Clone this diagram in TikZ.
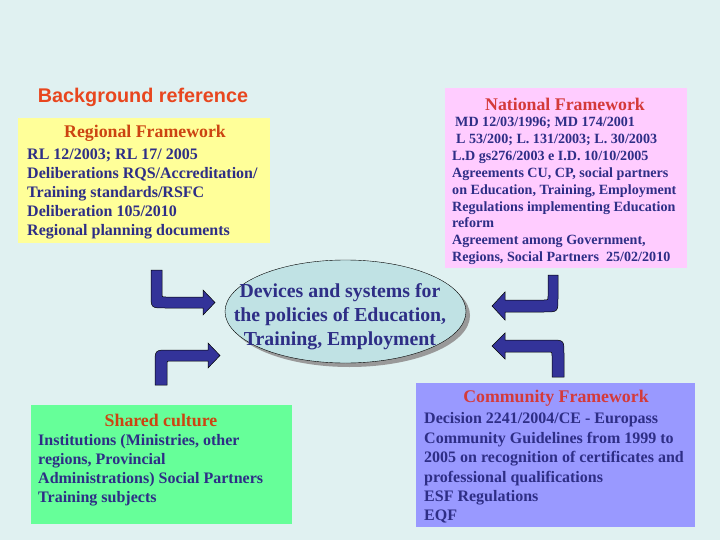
\documentclass[tikz,border=0pt]{standalone}
\usepackage{fontspec}
\setmainfont{Liberation Serif}
\newfontfamily\arialfont{Liberation Sans}
\usepackage{xcolor}
\usepackage{tikz}
\usetikzlibrary{shapes.geometric,shadows}
\definecolor{slidebg}{HTML}{E0F1F1}
\definecolor{regyellow}{HTML}{FFFF99}
\definecolor{natpink}{HTML}{FFCCFF}
\definecolor{sharedgreen}{HTML}{66FF99}
\definecolor{commviolet}{HTML}{9999FF}
\definecolor{ellteal}{HTML}{C0E2E4}
\definecolor{navy}{HTML}{2E2E86}
\definecolor{arrowblue}{HTML}{333399}
\definecolor{titleorange}{HTML}{CC4411}
\definecolor{titlered}{HTML}{D43A3A}
\definecolor{headred}{HTML}{E8461E}

\begin{document}
\begin{tikzpicture}[
  x=1pt, y=-1pt,
  title/.style={font=\bfseries\fontsize{17.8}{20}\selectfont, text=titleorange, inner sep=0pt},
  body/.style={anchor=north west, align=left, inner sep=0pt, text=navy,
               font=\bfseries\fontsize{16}{18.8}\selectfont},
  small/.style={body, font=\bfseries\fontsize{14.1}{16.9}\selectfont},
  bent/.style={fill=arrowblue, draw=black, line width=0.5pt}
]

\fill[slidebg] (0,0) rectangle (720,540);
\useasboundingbox (0,0) rectangle (720,540);

\node[text=headred, font=\arialfont\bfseries\fontsize{19.8}{22}\selectfont] (bgref) at (143,97) {Background reference};

% framework boxes
\fill[regyellow] (18,118) rectangle (270,243);
\node[title] (regtitle) at (145,133) {Regional Framework};
\node[body] (regtext) at (27,149)
  {RL 12/2003; RL 17/ 2005\\Deliberations RQS/Accreditation/\\Training standards/RSFC\\Deliberation 105/2010\\Regional planning documents};

\fill[natpink] (445,88) rectangle (687,268);
\node[title, text=titlered] (nattitle) at (565,104) {National Framework};
\node[small] (nattext) at (452,117)
  {\hspace{3pt}MD 12/03/1996; MD 174/2001\\\hspace{4pt}L 53/200; L. 131/2003; L. 30/2003\\L.D gs276/2003 e I.D. 10/10/2005\\Agreements CU, CP, social partners\\on Education, Training, Employment\\Regulations implementing Education\\reform\\Agreement among Government,\\Regions, Social Partners\ \ 25/02/2010};

\fill[sharedgreen] (31,405) rectangle (292,524);
\node[title] (shtitle) at (161,420) {Shared culture};
\node[body, font=\bfseries\fontsize{16}{19}\selectfont] (shtext) at (38,434)
  {Institutions (Ministries, other\\regions, Provincial\\Administrations) Social Partners\\Training subjects};

\fill[commviolet] (416,383) rectangle (695,527);
\node[title, text=titlered] (commtitle) at (556,398) {Community Framework};
\node[body, font=\bfseries\fontsize{16}{19.4}\selectfont] (commtext) at (424,412.5)
  {Decision 2241/2004/CE - Europass\\Community Guidelines from 1999 to\\2005 on recognition of certificates and\\professional qualifications\\ESF Regulations\\EQF};

% central ellipse
\node[ellipse, draw=black, line width=0.4pt, fill=ellteal, minimum width=241pt, minimum height=103pt,
      inner sep=0pt, drop shadow={shadow xshift=4pt, shadow yshift=-4pt, fill=black!40, opacity=1}]
  (devices) at (345.5,311.5) {};
\node[align=center, inner sep=0pt, text=navy, font=\bfseries\fontsize{19.8}{24}\selectfont] (devtext) at (340,317)
  {Devices and systems for\\the policies of Education,\\Training, Employment};

% bent arrows
\filldraw[bent] (151,270) -- (151,294) .. controls (151,308) .. (165,308) -- (203,308) -- (203,315)
  -- (215,302.5) -- (203,290) -- (203,297) -- (166,297) .. controls (162,297) .. (162,293) -- (162,270) -- cycle;
\filldraw[bent] (155,385) -- (155,364) .. controls (155,350) .. (169,350) -- (208,350) -- (208,343)
  -- (220,355.5) -- (208,368) -- (208,361) -- (171,361) .. controls (167,361) .. (167,365) -- (167,385) -- cycle;
\filldraw[bent] (558,275) -- (558,298) .. controls (558,312) .. (544,312) -- (505,312) -- (505,320)
  -- (492,306) -- (505,292) -- (505,300) -- (544,300) .. controls (548,300) .. (548,296) -- (548,275) -- cycle;
\filldraw[bent] (564,377) -- (564,354) .. controls (564,340) .. (550,340) -- (505,340) -- (505,333)
  -- (492,346) -- (505,359) -- (505,352) -- (548,352) .. controls (552,352) .. (552,356) -- (552,377) -- cycle;

\end{tikzpicture}
\end{document}
